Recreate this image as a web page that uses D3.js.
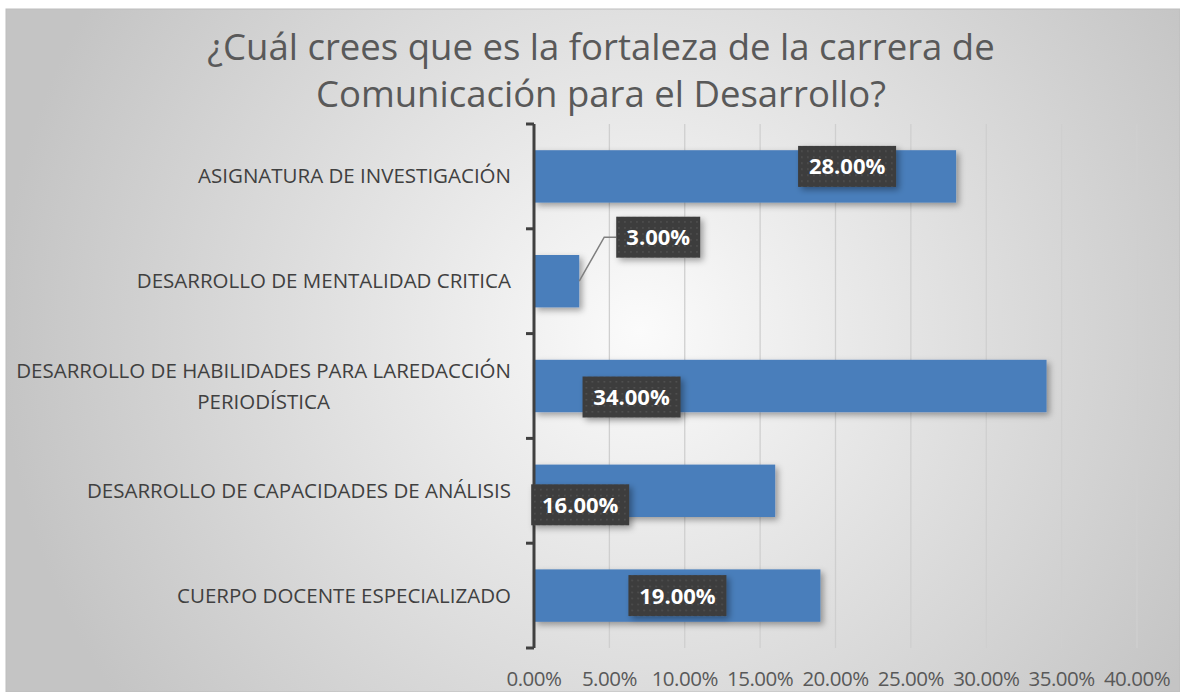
<!DOCTYPE html>
<html>
<head>
<meta charset="utf-8">
<script src="https://cdn.jsdelivr.net/npm/d3@7"></script>
<style>
  body { margin: 0; background: #fff; }
  svg { display: block; }
</style>
</head>
<body>
<svg width="1180" height="692"></svg>
<script>
// chart data
var categories = [
  "ASIGNATURA DE INVESTIGACIÓN",
  "DESARROLLO DE MENTALIDAD CRITICA",
  "DESARROLLO DE HABILIDADES PARA LAREDACCIÓN|PERIODÍSTICA",
  "DESARROLLO DE CAPACIDADES DE ANÁLISIS",
  "CUERPO DOCENTE ESPECIALIZADO"
];
var values = [0.28, 0.03, 0.34, 0.16, 0.19];
var xTicks = [0, 0.05, 0.10, 0.15, 0.20, 0.25, 0.30, 0.35, 0.40];
var titleLines = ["¿Cuál crees que es la fortaleza de la carrera de", "Comunicación para el Desarrollo?"];

// where each data label box was dragged to (centre, relative to bar end / band centre)
var labelShift = [[-109, -10], [79, -44], [-415, 11], [-195, 14], [-143, 0]];

var svg = d3.select("svg"),
    width = +svg.attr("width"),
    height = +svg.attr("height");

var margin = {top: 124, right: 43, bottom: 44, left: 534};
var font = "Open Sans, sans-serif";

var defs = svg.append("defs");
var bg = defs.append("radialGradient").attr("id", "bg")
    .attr("gradientUnits", "userSpaceOnUse")
    .attr("cx", 640).attr("cy", 330).attr("r", 640);
bg.append("stop").attr("offset", "0%").attr("stop-color", "#fbfbfb");
bg.append("stop").attr("offset", "100%").attr("stop-color", "#c4c4c4");

var sh = defs.append("filter").attr("id", "shadow")
    .attr("x", "-20%").attr("y", "-30%").attr("width", "150%").attr("height", "180%");
sh.append("feDropShadow").attr("dx", 3).attr("dy", 3).attr("stdDeviation", 3)
    .attr("flood-color", "#000").attr("flood-opacity", 0.35);

var pat = defs.append("pattern").attr("id", "dots")
    .attr("width", 6).attr("height", 6).attr("patternUnits", "userSpaceOnUse");
pat.append("rect").attr("width", 6).attr("height", 6).attr("fill", "#3c3c3c");
pat.append("rect").attr("x", 2).attr("y", 2).attr("width", 1.5).attr("height", 1.5).attr("fill", "#555");

// background
svg.append("rect")
    .attr("x", 6).attr("y", 9)
    .attr("width", width - 6).attr("height", height - 9)
    .attr("fill", "url(#bg)")
    .attr("stroke", "#bdbdbd").attr("stroke-width", 1);

// title
svg.append("text")
    .attr("text-anchor", "middle")
    .attr("font-family", font)
    .attr("font-size", 36.5)
    .attr("fill", "#595959")
  .selectAll("tspan")
  .data(titleLines)
  .enter().append("tspan")
    .attr("x", 601)
    .attr("y", function(d, i) { return 60 + i * 47; })
    .text(function(d) { return d; });

var x = d3.scaleLinear()
    .domain([0, 0.40])
    .range([margin.left, width - margin.right]);

var y = d3.scaleBand()
    .domain(categories)
    .range([margin.top, height - margin.bottom])
    .paddingInner(0.5)
    .paddingOuter(0.25);

// gridlines
svg.append("g")
  .selectAll("line")
  .data(xTicks.slice(1))
  .enter().append("line")
    .attr("x1", function(d) { return x(d); })
    .attr("x2", function(d) { return x(d); })
    .attr("y1", margin.top)
    .attr("y2", height - margin.bottom)
    .attr("stroke", "#cfcfcf")
    .attr("stroke-width", 1.3);

// x tick labels
svg.append("g")
  .selectAll("text")
  .data(xTicks)
  .enter().append("text")
    .attr("x", function(d) { return x(d); })
    .attr("y", 686)
    .attr("text-anchor", "middle")
    .attr("font-family", font)
    .attr("font-size", 20.5)
    .attr("letter-spacing", -0.5)
    .attr("fill", "#595959")
    .text(function(d) { return d3.format(".2%")(d); });

// bars
svg.append("g")
  .selectAll("rect")
  .data(values)
  .enter().append("rect")
    .attr("x", x(0))
    .attr("y", function(d, i) { return y(categories[i]); })
    .attr("width", function(d) { return x(d) - x(0); })
    .attr("height", y.bandwidth())
    .attr("fill", "#4a7ebb")
    .attr("filter", "url(#shadow)");

// y axis
svg.append("line")
    .attr("x1", margin.left).attr("x2", margin.left)
    .attr("y1", margin.top).attr("y2", height - margin.bottom)
    .attr("stroke", "#404040").attr("stroke-width", 3);
var step = y.step();
svg.append("g")
  .selectAll("line")
  .data(d3.range(categories.length + 1))
  .enter().append("line")
    .attr("x1", margin.left - 8).attr("x2", margin.left)
    .attr("y1", function(i) { return margin.top + i * step; })
    .attr("y2", function(i) { return margin.top + i * step; })
    .attr("stroke", "#404040").attr("stroke-width", 3);

// category labels
var catLabel = svg.append("g")
  .selectAll("text")
  .data(categories)
  .enter().append("text")
    .attr("font-family", font)
    .attr("font-size", 20.5)
    .attr("fill", "#404040")
    .attr("text-anchor", "middle");

catLabel.each(function(d) {
  var lines = d.split("|"),
      t = d3.select(this),
      cy = y(d) + y.bandwidth() / 2;
  lines.forEach(function(s, k) {
    t.append("tspan")
      .attr("x", 0)
      .attr("y", cy + 7 + (k - (lines.length - 1) / 2) * 31)
      .text(s);
  });
  // right align the block, centre each line inside it
  var w = this.getBBox().width;
  t.selectAll("tspan").attr("x", 511 - w / 2);
});

// leader line for the small bar
var leaders = svg.append("g");
values.forEach(function(d, i) {
  if (labelShift[i][0] > 0) {
    var bx = x(d), by = y(categories[i]) + y.bandwidth() * 0.5;
    var lx = x(d) + labelShift[i][0] - 42, ly = y(categories[i]) + y.bandwidth() / 2 + labelShift[i][1];
    leaders.append("path")
      .attr("d", "M" + bx + "," + by + "L" + (lx - 12) + "," + ly + "L" + lx + "," + ly)
      .attr("fill", "none").attr("stroke", "#7f7f7f").attr("stroke-width", 1.5);
  }
});

// data labels
var lab = svg.append("g")
  .selectAll("g")
  .data(values)
  .enter().append("g")
    .attr("transform", function(d, i) {
      var cx = x(d) + labelShift[i][0],
          cy = y(categories[i]) + y.bandwidth() / 2 + labelShift[i][1];
      return "translate(" + cx + "," + cy + ")";
    });

lab.append("rect")
    .attr("x", function(d) { return d < 0.1 ? -42 : -49; })
    .attr("y", -20.5)
    .attr("width", function(d) { return d < 0.1 ? 84 : 98; })
    .attr("height", 41)
    .attr("fill", "url(#dots)")
    .attr("filter", "url(#shadow)");

lab.append("text")
    .attr("text-anchor", "middle")
    .attr("y", 8)
    .attr("font-family", font)
    .attr("font-weight", "bold")
    .attr("font-size", 22)
    .attr("fill", "#fff")
    .text(function(d) { return d3.format(".2%")(d); });
</script>
</body>
</html>
